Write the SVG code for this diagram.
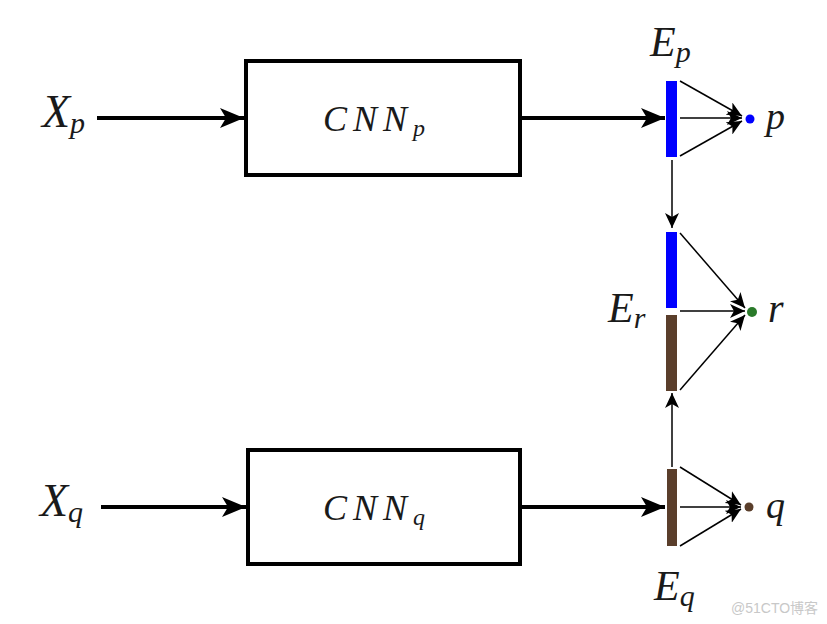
<svg xmlns="http://www.w3.org/2000/svg" width="827" height="624" viewBox="0 0 827 624">
<style>
.box{fill:#fff;stroke:#000;stroke-width:4}
.thick{stroke:#000;stroke-width:4;fill:none}
.thin{stroke:#000;stroke-width:1.5;fill:none}
.m{font-family:"Liberation Serif","Times New Roman",serif;font-style:italic;fill:#1a1a1a}
.wm{font-family:"Liberation Sans","Noto Sans CJK SC",sans-serif;fill:#c8c8c8;font-size:14px}
</style>
<defs>
<marker id="big" markerUnits="userSpaceOnUse" markerWidth="26" markerHeight="22" refX="24" refY="11" orient="auto">
<path d="M0,1 L24,11 L0,21 L6,11 Z" fill="#000"/>
</marker>
<marker id="small" markerUnits="userSpaceOnUse" markerWidth="16" markerHeight="14" refX="15" refY="7" orient="auto">
<path d="M0,0 L15,7 L0,14 L4,7 Z" fill="#000"/>
</marker>
</defs>
<g id="connectors">
<line class="thick" x1="97" y1="118" x2="244" y2="118" marker-end="url(#big)"/>
<line class="thick" x1="522" y1="118" x2="665" y2="118" marker-end="url(#big)"/>
<line class="thick" x1="101" y1="507" x2="246" y2="507" marker-end="url(#big)"/>
<line class="thick" x1="522" y1="507" x2="665" y2="507" marker-end="url(#big)"/>
<line class="thin" x1="680" y1="81" x2="742" y2="116" marker-end="url(#small)"/>
<line class="thin" x1="680" y1="118" x2="742" y2="118" marker-end="url(#small)"/>
<line class="thin" x1="680" y1="156" x2="742" y2="121" marker-end="url(#small)"/>
<line class="thin" x1="672" y1="160" x2="672" y2="228" marker-end="url(#small)"/>
<line class="thin" x1="680" y1="233" x2="745" y2="308" marker-end="url(#small)"/>
<line class="thin" x1="680" y1="311" x2="745" y2="311" marker-end="url(#small)"/>
<line class="thin" x1="680" y1="390" x2="745" y2="315" marker-end="url(#small)"/>
<line class="thin" x1="672" y1="467" x2="672" y2="393" marker-end="url(#small)"/>
<line class="thin" x1="680" y1="467" x2="741" y2="505" marker-end="url(#small)"/>
<line class="thin" x1="680" y1="507" x2="741" y2="507" marker-end="url(#small)"/>
<line class="thin" x1="680" y1="546" x2="741" y2="509" marker-end="url(#small)"/>
</g>
<g id="Xp"><text class="m" x="42" y="127" font-size="46">X<tspan font-size="30" dy="6">p</tspan></text></g>
<g id="Xq"><text class="m" x="40" y="516" font-size="46">X<tspan font-size="30" dy="6">q</tspan></text></g>
<g id="CNNp"><rect class="box" x="246" y="61" width="274" height="114"/>
<text class="m" x="323" y="131" font-size="36" letter-spacing="6">CNN<tspan font-size="24" dy="5" letter-spacing="0">p</tspan></text></g>
<g id="CNNq"><rect class="box" x="248" y="450" width="272" height="114"/>
<text class="m" x="323" y="520" font-size="36" letter-spacing="6">CNN<tspan font-size="24" dy="5" letter-spacing="0">q</tspan></text></g>
<g id="Ep"><rect x="666" y="81" width="11" height="76" fill="#0000ff"/>
<text class="m" x="650" y="56" font-size="42">E<tspan font-size="30" dy="6">p</tspan></text></g>
<g id="Er"><rect x="666" y="232" width="11" height="76" fill="#0000ff"/>
<rect x="666" y="315" width="11" height="76" fill="#5a3e2b"/>
<text class="m" x="608" y="322" font-size="42">E<tspan font-size="30" dy="6">r</tspan></text></g>
<g id="Eq"><rect x="667" y="469" width="10" height="77" fill="#5a3e2b"/>
<text class="m" x="654" y="600" font-size="42">E<tspan font-size="30" dy="6">q</tspan></text></g>
<g id="p"><circle cx="750" cy="119" r="4.5" fill="#0000ff"/><text class="m" x="766" y="129" font-size="38">p</text></g>
<g id="r"><circle cx="752" cy="312" r="5" fill="#2a7a2a"/><text class="m" x="768" y="322" font-size="40">r</text></g>
<g id="q"><circle cx="749" cy="507" r="4.5" fill="#5a3e2b"/><text class="m" x="766" y="518" font-size="38">q</text></g>
<text class="wm" x="731" y="613">@51CTO博客</text>
</svg>
